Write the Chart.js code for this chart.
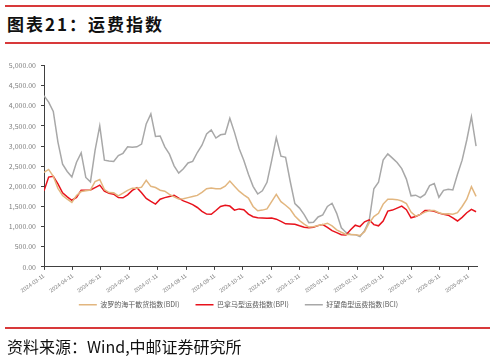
<!DOCTYPE html>
<html><head><meta charset="utf-8">
<script src="https://cdn.jsdelivr.net/npm/chart.js@4.4.0/dist/chart.umd.min.js"></script>
<style>
html,body{margin:0;padding:0;background:#fff;}
body{width:494px;height:363px;position:relative;overflow:hidden;font-family:"Noto Sans CJK SC",sans-serif;}
.rule{position:absolute;left:5px;width:485px;height:2px;background:#d8393a;}
#title{position:absolute;left:7px;top:13px;font-size:17px;font-weight:bold;letter-spacing:2px;color:#111;line-height:22px;white-space:nowrap;}
#source{position:absolute;left:7px;top:336px;font-size:16px;color:#111;line-height:20px;white-space:nowrap;}
#wrap{position:absolute;left:0;top:0;width:494px;height:363px;}
</style></head><body>
<div class="rule" style="top:5px"></div>
<div id="title">图表21：运费指数</div>
<div class="rule" style="top:42px"></div>
<div id="wrap"><canvas id="c"></canvas></div>
<div class="rule" style="top:327px"></div>
<div id="source">资料来源：Wind,中邮证券研究所</div>
<script>
const START = '2024-03-11';
const STEP_DAYS = 5;
const X_MAX_DAYS = 466;
const tickLabels = ['2024-03-11','2024-04-11','2024-05-11','2024-06-11','2024-07-11','2024-08-11','2024-09-11','2024-10-11','2024-11-11','2024-12-11','2025-01-11','2025-02-11','2025-03-11','2025-04-11','2025-05-11','2025-06-11'];
const yTicks = {min: 0, max: 5000, step: 500};
const seriesNames = ['波罗的海干散货指数(BDI)', '巴拿马型运费指数(BPI)', '好望角型运费指数(BCI)'];
const bdi = [
2345,2420,2250,1950,1770,1680,1600,1775,1870,1890,
1910,2120,2170,1920,1845,1840,1765,1830,1900,1955,
1955,1980,2150,2000,1970,1905,1880,1800,1740,1685,
1690,1720,1750,1775,1850,1940,1960,1940,1940,2005,
2130,2000,1880,1790,1710,1500,1395,1410,1440,1620,
1800,1620,1530,1430,1265,1150,1060,990,995,1030,
1050,1085,1020,920,860,805,805,800,780,870,
1090,1250,1330,1560,1680,1680,1670,1635,1570,1360,
1260,1305,1360,1400,1400,1345,1315,1320,1310,1345,
1500,1680,1990,1750];
const bpi = [
1890,2230,2250,2060,1840,1740,1655,1725,1905,1905,
1910,1970,2030,1880,1825,1805,1720,1715,1790,1900,
1965,1840,1700,1625,1560,1680,1720,1750,1780,1710,
1640,1595,1545,1475,1380,1310,1305,1400,1500,1530,
1510,1410,1440,1420,1310,1245,1220,1215,1210,1215,
1185,1130,1070,1065,1060,1020,985,970,985,1025,
1050,980,900,850,800,790,920,1035,1000,1120,
1170,1050,1020,1140,1385,1410,1460,1510,1420,1220,
1250,1305,1400,1400,1380,1335,1305,1285,1215,1140,
1230,1345,1430,1370];
const bci = [
4250,4090,3860,3100,2550,2370,2230,2600,2830,2220,
2110,2900,3500,2650,2630,2615,2765,2820,2980,2970,
2980,3050,3550,3800,3240,3250,2980,2800,2510,2330,
2435,2580,2620,2840,3020,3300,3400,3200,3280,3300,
3690,3340,2940,2650,2300,2000,1810,1890,2100,2640,
3210,2750,2720,2120,1570,1460,1300,1100,1110,1240,
1290,1500,1580,1330,970,855,805,800,755,900,
1150,1940,2100,2650,2805,2700,2590,2440,2180,1765,
1780,1720,1800,2020,2070,1730,1900,1930,1910,2300,
2650,3150,3730,3000];
const colors = ['#e2b67f', '#e8121c', '#a8a8a8'];

const DAY = 86400000;
const t0 = Date.parse(START);
const tickDays = tickLabels.map(s => Math.round((Date.parse(s) - t0) / DAY));
const toPts = arr => arr.map((v, i) => ({x: i * STEP_DAYS, y: v}));
const seriesData = [bdi, bpi, bci];

const axisColor = '#404040';
const tickColor = '#808080';
new Chart(document.getElementById('c'), {
  type: 'line',
  data: {
    datasets: seriesData.map((arr, i) => ({
      label: seriesNames[i],
      data: toPts(arr),
      borderColor: colors[i],
      backgroundColor: colors[i],
      borderWidth: 1.5,
      pointRadius: 0,
      tension: 0,
      fill: false
    }))
  },
  options: {
    responsive: true,
    maintainAspectRatio: false,
    animation: false,
    layout: {padding: {top: 65.5, bottom: 44.8, left: 0, right: 17}},
    scales: {
      x: {
        type: 'linear',
        min: 0,
        max: X_MAX_DAYS,
        afterBuildTicks: s => { s.ticks = tickDays.map(v => ({value: v})); },
        afterFit: s => { s.height = 18.3; s._computeLabelArea = () => undefined; },
        grid: {display: true, drawOnChartArea: false, drawTicks: true, tickLength: 3, color: axisColor},
        border: {display: true, color: axisColor, width: 1},
        ticks: {
          autoSkip: false,
          maxRotation: 35,
          minRotation: 35,
          padding: 3,
          color: tickColor,
          font: {family: 'Liberation Sans', size: 5.5},
          callback: (v, i) => tickLabels[i]
        }
      },
      y: {
        min: yTicks.min,
        max: yTicks.max,
        afterFit: s => { s.width = 44; },
        grid: {display: true, drawOnChartArea: false, drawTicks: true, tickLength: 3, color: axisColor},
        border: {display: true, color: axisColor, width: 1},
        ticks: {
          stepSize: yTicks.step,
          padding: 5,
          color: tickColor,
          font: {family: 'Noto Sans CJK SC', size: 7},
          callback: v => Number(v).toLocaleString('en-US', {minimumFractionDigits: 2, maximumFractionDigits: 2})
        }
      }
    },
    plugins: {
      tooltip: {enabled: false},
      legend: {
        position: 'bottom',
        labels: {
          usePointStyle: true,
          pointStyle: 'line',
          pointStyleWidth: 18,
          boxHeight: 7,
          padding: 16,
          color: '#595959',
          font: {family: 'Noto Sans CJK SC', size: 7}
        }
      }
    }
  }
});
</script>
</body></html>
